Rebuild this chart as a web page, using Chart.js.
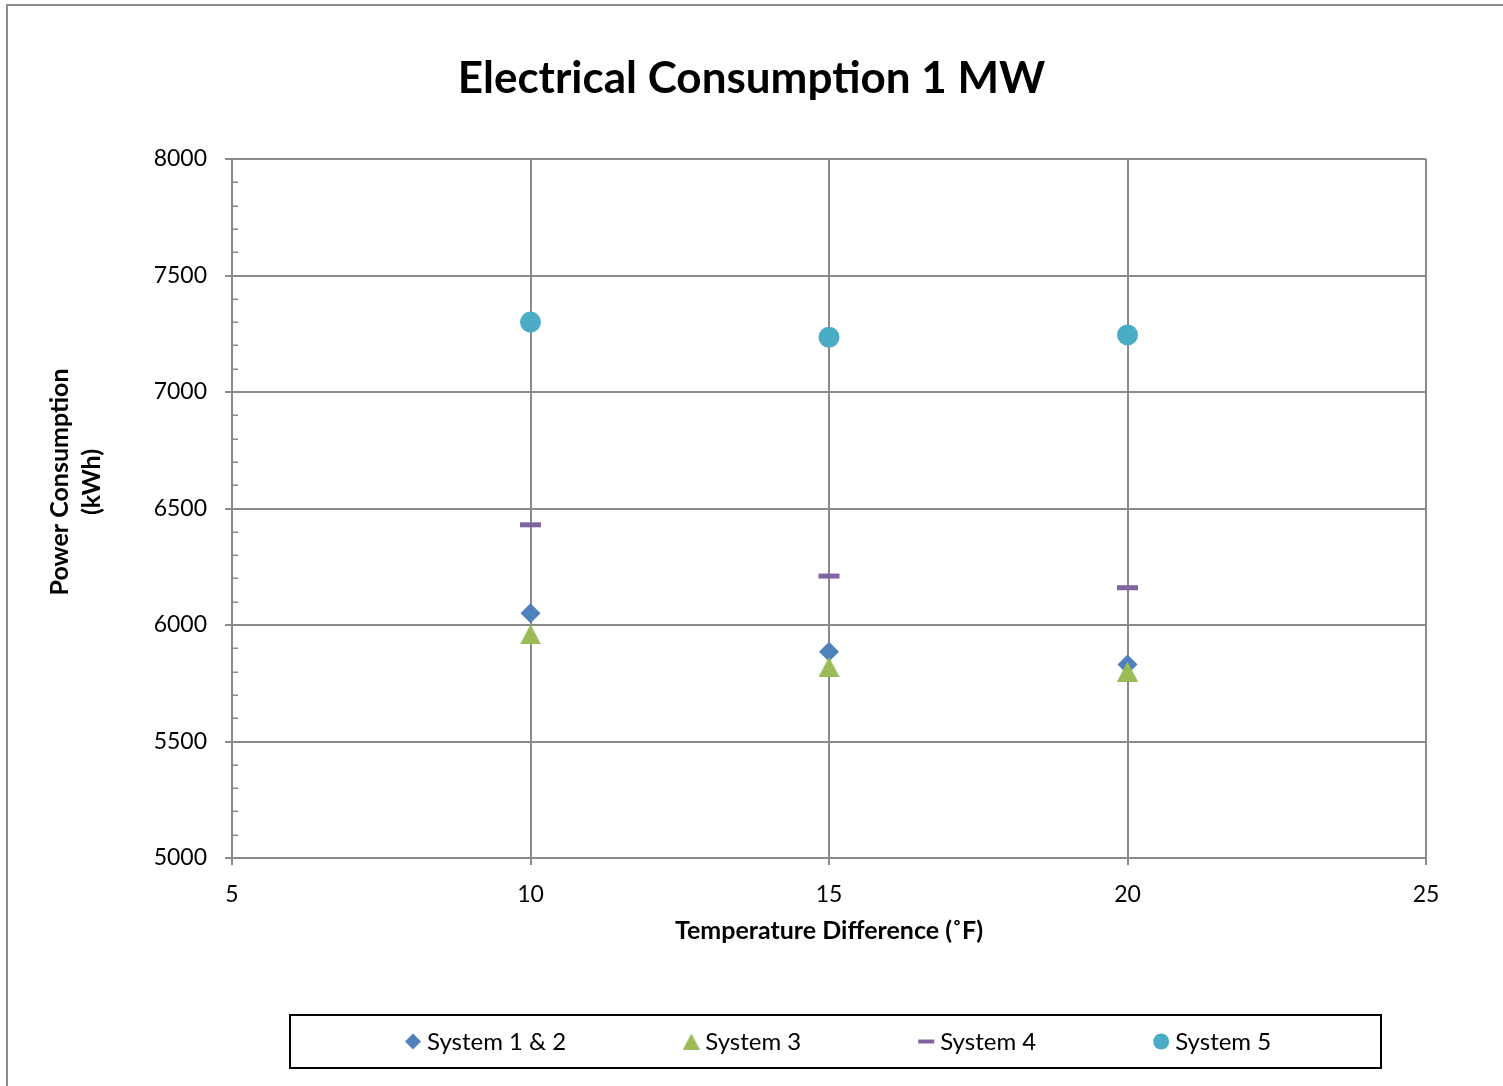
<!DOCTYPE html>
<html>
<head>
<meta charset="utf-8">
<title>Electrical Consumption 1 MW</title>
<script src="https://cdn.jsdelivr.net/npm/chart.js@4/dist/chart.umd.min.js"></script>
<style>
  html, body { margin: 0; padding: 0; background: #ffffff; }
  #wrap { width: 1503px; height: 1086px; position: relative; }
  canvas { display: block; }
</style>
</head>
<body>
<div id="wrap"><canvas id="chart" width="1503" height="1086"></canvas></div>
<script>
// Temperature difference (°F) on the x axis
const temperatureDiff = [10, 15, 20];

// Power consumption (kWh) per system
const system12 = [6050, 5885, 5830];
const system3  = [5960, 5820, 5800];
const system4  = [6430, 6210, 6160];
const system5  = [7300, 7235, 7245];

const seriesNames = ['System 1 & 2', 'System 3', 'System 4', 'System 5'];
const seriesColors = ['#4F81BD', '#9BBB59', '#8064A2', '#4BACC6'];

// Axis settings
const xMin = 5, xMax = 25, xStep = 5;
const yMin = 5000, yMax = 8000, yStep = 500, yMinorStep = 100;

const chartTitle = 'Electrical Consumption 1 MW';
const xTitle = 'Temperature Difference (˚F)';
const yTitleLines = ['Power Consumption', '(kWh)'];

const FONT = 'Lato, "Open Sans", "DejaVu Sans", sans-serif';
const GRID = '#8a8a8a';

function toPoints(xs, ys) {
  return xs.map((x, i) => ({ x: x, y: ys[i] }));
}

// Isosceles triangle marker drawn into a small canvas
function triangleMarker(w, h, color) {
  const c = document.createElement('canvas');
  c.width = w; c.height = h;
  const g = c.getContext('2d');
  g.fillStyle = color;
  g.beginPath();
  g.moveTo(w / 2, 0);
  g.lineTo(w, h);
  g.lineTo(0, h);
  g.closePath();
  g.fill();
  return c;
}

const triangleBig = triangleMarker(21, 20, seriesColors[1]);
const triangleSmall = triangleMarker(17, 16, seriesColors[1]);

// Outer frame of the chart object
const framePlugin = {
  id: 'frame',
  beforeDraw(chart) {
    const ctx = chart.ctx;
    ctx.save();
    ctx.fillStyle = '#ffffff';
    ctx.fillRect(0, 0, chart.width, chart.height);
    ctx.strokeStyle = '#8c8c8c';
    ctx.lineWidth = 2;
    ctx.strokeRect(7, 5, chart.width + 50, chart.height + 50);
    ctx.restore();
  }
};

// Chart heading
const headingPlugin = {
  id: 'heading',
  afterDraw(chart) {
    const ctx = chart.ctx;
    ctx.save();
    ctx.fillStyle = '#000000';
    ctx.font = 'bold 44px ' + FONT;
    ctx.textAlign = 'center';
    ctx.textBaseline = 'alphabetic';
    ctx.fillText(chartTitle, chart.width / 2, 93);
    ctx.restore();
  }
};

// Minor tick marks on the inside of the value axis
const minorTicksPlugin = {
  id: 'minorTicks',
  afterDraw(chart) {
    const y = chart.scales.y;
    const ctx = chart.ctx;
    const left = chart.chartArea.left;
    ctx.save();
    ctx.strokeStyle = GRID;
    ctx.lineWidth = 1.5;
    for (let v = yMin; v <= yMax; v += yMinorStep) {
      if (v % yStep === 0) continue;
      const py = Math.round(y.getPixelForValue(v)) + 0.25;
      ctx.beginPath();
      ctx.moveTo(left, py);
      ctx.lineTo(left + 6, py);
      ctx.stroke();
    }
    ctx.restore();
  }
};

// Two-line rotated title of the value axis
const yTitlePlugin = {
  id: 'yTitle',
  afterDraw(chart) {
    const ctx = chart.ctx;
    ctx.save();
    ctx.fillStyle = '#000000';
    ctx.font = 'bold 25px ' + FONT;
    ctx.textAlign = 'center';
    ctx.textBaseline = 'middle';
    const cy = 482;
    const xs = [60, 92];
    yTitleLines.forEach((line, i) => {
      ctx.save();
      ctx.translate(xs[i], cy);
      ctx.rotate(-Math.PI / 2);
      ctx.fillText(line, 0, 0);
      ctx.restore();
    });
    ctx.restore();
  }
};

function drawLegendMarker(ctx, i, x, y) {
  ctx.fillStyle = seriesColors[i];
  ctx.strokeStyle = seriesColors[i];
  ctx.beginPath();
  if (i === 0) {
    const r = 8;
    ctx.moveTo(x, y - r); ctx.lineTo(x + r, y); ctx.lineTo(x, y + r); ctx.lineTo(x - r, y);
    ctx.closePath(); ctx.fill();
  } else if (i === 1) {
    ctx.drawImage(triangleSmall, x - triangleSmall.width / 2, y - triangleSmall.height / 2);
  } else if (i === 2) {
    ctx.fillRect(x - 8, y - 2, 16, 4);
  } else {
    ctx.arc(x, y, 8, 0, Math.PI * 2); ctx.fill();
  }
}

// Boxed legend below the plot
const legendBoxPlugin = {
  id: 'legendBox',
  afterDraw(chart) {
    const ctx = chart.ctx;
    const box = { left: 290, top: 1015, right: 1381, bottom: 1068 };
    ctx.save();
    ctx.strokeStyle = '#000000';
    ctx.lineWidth = 2;
    ctx.strokeRect(box.left, box.top, box.right - box.left, box.bottom - box.top);

    ctx.font = '24px ' + FONT;
    ctx.textBaseline = 'middle';
    ctx.textAlign = 'left';
    const markerHalf = 8, textGap = 6, itemGap = 117;
    const cy = (box.top + box.bottom) / 2;
    let x = box.left + 115;
    seriesNames.forEach((name, i) => {
      drawLegendMarker(ctx, i, x + markerHalf, cy);
      ctx.fillStyle = '#000000';
      ctx.fillText(name, x + markerHalf * 2 + textGap, cy + 1);
      x += markerHalf * 2 + textGap + ctx.measureText(name).width + itemGap;
    });
    ctx.restore();
  }
};

const ctx = document.getElementById('chart').getContext('2d');

new Chart(ctx, {
  type: 'scatter',
  data: {
    datasets: [
      {
        label: seriesNames[0],
        data: toPoints(temperatureDiff, system12),
        pointStyle: 'rectRot',
        pointRadius: 10,
        backgroundColor: seriesColors[0],
        borderColor: seriesColors[0],
        borderWidth: 0,
        order: 2
      },
      {
        label: seriesNames[1],
        data: toPoints(temperatureDiff, system3),
        pointStyle: triangleBig,
        pointRadius: 10,
        backgroundColor: seriesColors[1],
        borderColor: seriesColors[1],
        borderWidth: 0,
        order: 1
      },
      {
        label: seriesNames[2],
        data: toPoints(temperatureDiff, system4),
        pointStyle: 'line',
        pointRadius: 10.5,
        backgroundColor: seriesColors[2],
        borderColor: seriesColors[2],
        borderWidth: 5,
        order: 3
      },
      {
        label: seriesNames[3],
        data: toPoints(temperatureDiff, system5),
        pointStyle: 'circle',
        pointRadius: 10.5,
        backgroundColor: seriesColors[3],
        borderColor: seriesColors[3],
        borderWidth: 0,
        order: 4
      }
    ]
  },
  options: {
    responsive: false,
    animation: false,
    events: [],
    layout: { padding: { left: 0, right: 77, top: 159, bottom: 0 } },
    plugins: {
      legend: { display: false },
      tooltip: { enabled: false },
      title: { display: false }
    },
    scales: {
      x: {
        type: 'linear',
        min: xMin, max: xMax,
        afterFit(scale) { scale.height = 228; },
        ticks: {
          stepSize: xStep,
          color: '#000000',
          font: { family: FONT, size: 23 },
          padding: 16,
          callback: (v) => String(v)
        },
        grid: { color: GRID, lineWidth: 2, tickLength: 7, tickColor: GRID, drawTicks: true },
        border: { color: GRID, width: 2 },
        title: {
          display: true,
          text: xTitle,
          color: '#000000',
          font: { family: FONT, size: 25, weight: 'bold', lineHeight: 1.2 },
          padding: { top: 0, bottom: 140 }
        }
      },
      y: {
        type: 'linear',
        min: yMin, max: yMax,
        afterFit(scale) { scale.width = 232; },
        ticks: {
          stepSize: yStep,
          color: '#000000',
          font: { family: FONT, size: 23 },
          padding: 18,
          callback: (v) => String(v)
        },
        grid: { color: GRID, lineWidth: 2, tickLength: 7, tickColor: GRID, drawTicks: true },
        border: { color: GRID, width: 2 }
      }
    }
  },
  plugins: [framePlugin, headingPlugin, minorTicksPlugin, yTitlePlugin, legendBoxPlugin]
});
</script>
</body>
</html>
